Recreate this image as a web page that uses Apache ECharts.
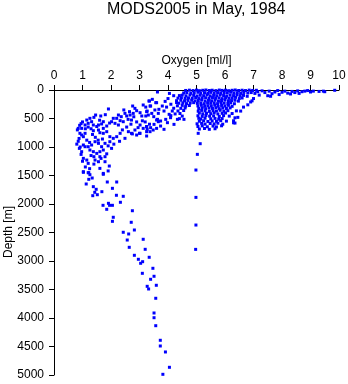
<!DOCTYPE html>
<html><head><meta charset="utf-8">
<script src="https://cdn.jsdelivr.net/npm/echarts@6/dist/echarts.min.js"></script>
<style>html,body{margin:0;padding:0;background:#fff}#c{width:348px;height:384px}</style>
</head><body><div id="c"></div>
<script>
const titleText = 'MODS2005 in May, 1984';
const xName = 'Oxygen [ml/l]';
const yName = 'Depth [m]';
const xTicks = [0,1,2,3,4,5,6,7,8,9,10];
const yTicks = [0,500,1000,1500,2000,2500,3000,3500,4000,4500,5000];

// [oxygen ml/l, depth m]
const surfaceBand = [
[4.62,8],[4.75,3],[4.88,10],[5.0,2],[5.1,12],[5.22,5],[5.33,0],[5.45,9],[5.55,4],[5.68,11],[5.8,1],[5.9,7],[6.02,3],[6.13,12],[6.25,5],[6.36,0],[6.48,9],[6.6,4],[6.72,10],[6.85,2],[6.97,8],[7.1,5],
[4.55,52],[4.66,45],[4.8,58],[4.92,48],[5.05,40],[5.15,55],[5.28,47],[5.4,60],[5.5,42],[5.62,53],[5.74,46],[5.85,57],[5.97,44],[6.08,50],[6.2,38],[6.31,55],[6.43,48],[6.55,60],[6.66,43],[6.8,52],[6.92,45],
[4.4,98],[4.5,90],[4.63,102],[4.77,88],[4.9,95],[5.02,105],[5.13,92],[5.25,99],[5.37,86],[5.48,103],[5.6,94],[5.71,100],[5.83,89],[5.95,97],[6.06,106],[6.18,91],[6.3,99],[6.42,87],[6.53,102],[6.65,95],[6.78,110],
[4.35,142],[4.47,135],[4.6,148],[4.72,138],[4.85,145],[4.97,132],[5.08,150],[5.2,140],[5.32,136],[5.44,147],[5.56,133],[5.67,144],[5.79,139],[5.9,151],[6.02,134],[6.14,146],[6.25,141],[6.37,130],[6.5,150],[6.6,140],
[4.3,188],[4.45,180],[4.58,192],[4.7,183],[4.83,178],[4.95,190],[5.06,185],[5.18,176],[5.3,193],[5.42,182],[5.53,189],[5.65,179],[5.77,194],[5.88,184],[6.0,177],[6.12,191],[6.23,186],[6.35,180],[6.47,195],
[4.38,232],[4.52,225],[4.65,238],[4.78,228],[4.9,222],[5.03,235],[5.15,229],[5.27,240],[5.39,224],[5.5,233],[5.62,227],[5.74,239],[5.86,221],[5.97,231],[6.1,236],[6.2,226],[6.33,241],
[4.33,278],[4.5,270],[4.62,283],[4.75,272],[5.05,280],[5.17,268],[5.29,285],[5.4,274],[5.52,279],[5.64,266],[5.76,284],[5.88,271],[6.0,281],[6.12,269],[6.25,287],
[4.45,322],[4.6,315],[5.08,325],[5.2,312],[5.32,328],[5.44,318],[5.56,323],[5.68,310],[5.8,327],[5.92,316],[6.05,324],[6.18,314],
[4.35,368],[4.55,360],[5.06,372],[5.18,358],[5.3,366],[5.45,375],[5.58,361],[5.7,369],[5.83,356],[5.96,371],[6.1,363],[6.4,366],
[4.42,412],[5.1,405],[5.22,418],[5.35,408],[5.5,415],[5.62,402],[5.75,420],[5.9,410],[6.02,404],[6.25,413],
[4.5,458],[5.05,452],[5.2,463],[5.33,448],[5.46,460],[5.6,455],[5.8,465],[5.95,450],[6.15,458],
[4.4,503],[5.08,497],[5.15,510],[5.3,495],[5.5,505],[5.65,498],[5.78,512],[5.9,501],[6.35,488],
[5.1,548],[5.25,540],[5.4,552],[5.55,543],[5.7,550],[5.85,538],[6.05,546],
[5.02,593],[5.18,585],[5.3,598],[5.48,588],[5.62,595],[5.75,583],[5.92,600],[6.3,575],
[5.05,640],[5.2,630],[5.38,645],[5.58,633],[5.7,648],[5.88,628],
[5.1,685],[5.28,675],[5.45,690],[5.65,680]
];

const highOxygenTail = [
[7.05,60],[7.15,30],[7.2,90],[7.3,15],[7.4,45],[7.5,100],[7.55,20],[7.65,65],[7.75,35],[7.85,10],[7.9,80],[8.0,40],[8.1,20],[8.2,55],[8.3,70],[8.35,25],[8.45,45],[8.55,15],[8.6,60],[8.7,30],[8.8,20],[8.9,10],[9.0,35],[9.1,20],[9.3,25],[9.45,20],[9.5,30],[9.85,5],
[7.6,110],[7.0,150],[6.9,210],[6.95,190],[6.8,260],[6.65,300],[6.55,370],[6.45,480],[6.35,580],[6.3,540]
];

const transitionZone = [
[3.63,35],[3.33,193],[3.45,164],[3.57,222],[3.39,281],[3.27,369],[3.22,456],[3.68,339],[3.8,281],[3.86,369],[3.63,515],[3.51,603],[3.39,661],[3.27,690],[3.25,807],[3.74,544],[3.92,515],[4.04,427],[3.98,573],[4.09,486],[4.21,603],[3.86,690],[3.74,632],[4.15,369],[4.33,515],[4.56,515],[3.2,560],[3.35,600],[3.25,640],[4.0,150],[4.1,250],[4.2,320],[4.25,420],[3.9,200],[4.05,60],[4.2,100],[3.95,300],[4.3,220],[4.1,450]
];

const intermediateLayer = [
[3.35,193],[3.60,222],[3.13,263],[3.22,300],[3.37,281],[2.76,281],[1.91,333],[2.84,322],[2.9,363],[3.02,398],[2.78,410],[2.67,439],[2.55,456],[2.49,410],[2.36,468],[2.26,439],[2.2,497],[2.08,497],[2.02,556],[2.14,585],[2.32,538],[2.43,556],[2.6,515],[2.72,527],[2.26,614],[1.85,632],[1.73,673],[1.46,439],[1.64,456],[1.8,433],[3.25,380],[3.43,410],[3.54,351],[3.66,410],[3.5,468],[3.6,527],[3.31,439],[3.08,456],[1.15,527],[1.26,497],[1.32,556],[1.2,585],[1.09,614],[0.97,673],[0.85,673],[1.38,614],[1.56,614],[1.67,596],[1.73,556],[0.91,760],[0.97,790],[1.03,819],[1.09,760],[1.38,714],[1.56,702],[1.61,749],[1.73,760],[1.85,731],[1.96,819],[2.08,848],[2.2,819],[2.32,760],[2.49,848],[2.61,731],[2.72,760],[2.84,702],[3.02,614],[3.13,673],[3.25,644],[3.37,731],[3.48,702],[3.6,673],[3.66,556],[3.02,760],[3.25,731],[1.03,965],[1.09,995],[1.2,995],[1.32,965],[1.44,907],[1.56,936],[1.67,995],[1.79,936],[1.96,907],[2.02,1024],[0.89,1024],[0.97,1082],[1.26,1053],[1.38,1082],[1.5,1112],[1.61,1082],[1.73,1053],[1.03,1199],[1.15,1229],[1.2,1287],[1.44,1229],[1.56,1258],[1.61,1170],[1.79,1170],[1.79,1258],[1.03,1433],[1.2,1451],[1.61,1375],[1.73,1463],[1.94,1334],
[0.82,700],[0.88,850],[0.85,900],[0.8,950],[0.92,1000],[0.95,1130],[1.0,1250],[0.9,620],[1.1,680],[1.15,880],[1.25,920],[1.3,1150],[1.4,1300],[1.1,1350],[1.25,1380],[1.0,560],[0.95,590],[1.2,650],[1.35,780],[1.45,830],[1.55,880],[1.7,860],[1.9,980],[2.1,950],[2.3,900],[2.4,700],[2.55,650],[2.7,600],[2.9,560],[2.95,660],[3.1,540],[2.8,470],[2.65,380],[2.45,350],[1.95,580],[1.6,530],[1.4,480],[1.5,640],[1.3,680],[1.85,1120],[1.65,1200],[1.4,1170],[1.9,1420],[2.75,770],[2.9,790],[3.0,760]
];

const midDepth = [
[1.03,1444],[1.22,1451],[1.26,1486],[1.73,1479],[1.34,1544],[1.22,1567],[1.87,1614],[2.20,1614],[1.13,1649],[1.38,1696],[2.05,1725],[1.48,1742],[1.68,1784],[1.43,1795],[1.52,1837],[1.36,1854],[2.19,1847],[2.43,1865],[2.33,1970],[1.91,1988],[1.72,2023],[1.95,2023],[2.05,2023],[1.85,2093],[2.75,2118],[2.08,2233],[2.05,2304],[2.71,2321]
];

const deepWater = [
[2.43,2496],[2.62,2526],[2.82,2456],[2.57,2632],[3.13,2619],[2.64,2760],[3.20,2795],[2.82,2900],[3.34,2935],[2.96,2970],[3.11,3012],[3.04,3040],[3.47,3128],[3.10,3216],[3.51,3268],[3.39,3321],[3.59,3426],[3.27,3444],[3.32,3491],[3.57,3654],[3.51,3912],[3.51,3995],[3.57,4135],[3.73,4391],[3.73,4491],[3.91,4596],[4.05,4865],[3.82,4988]
];

const stationColumn = [
[5.06,760],[5.13,942],[5.03,1129],[4.98,1404],[4.98,1884],[4.98,2369],[4.97,2796]
];

const allPoints = [].concat(surfaceBand, highOxygenTail, transitionZone, intermediateLayer, midDepth, deepWater, stationColumn);

const chart = echarts.init(document.getElementById('c'), null, {renderer:'canvas'});
const font = 'Liberation Sans, Arial, Helvetica, sans-serif';
chart.setOption({
  animation: false,
  backgroundColor: '#fff',
  title: {
    text: titleText, left: 107, top: 2, padding: 0,
    textStyle: {fontFamily: font, fontSize: 16, fontWeight: 'normal', color: '#000'}
  },
  graphic: [{
    type: 'text', x: 9, y: 232, rotation: Math.PI / 2,
    style: {text: yName, fontFamily: font, fontSize: 12, fill: '#000', align: 'center', verticalAlign: 'middle'}
  }],
  grid: {left: 54, top: 90, width: 285, height: 285, containLabel: false, outerBoundsMode: 'none'},
  xAxis: {
    type: 'value', position: 'top', min: xTicks[0], max: xTicks[xTicks.length-1], interval: 1,
    name: xName, nameLocation: 'middle', nameGap: 23, nameMoveOverlap: false,
    nameTextStyle: {fontFamily: font, fontSize: 12, color: '#000'},
    axisLine: {show: true, lineStyle: {color: '#000', width: 1}},
    axisTick: {show: true, inside: false, length: 5, lineStyle: {color: '#000'}},
    axisLabel: {fontFamily: font, fontSize: 12, color: '#000', margin: 8, formatter: v => String(v)},
    splitLine: {show: false}
  },
  yAxis: {
    type: 'value', inverse: true, min: yTicks[0], max: yTicks[yTicks.length-1], interval: 500,
    axisLine: {show: true, lineStyle: {color: '#000', width: 1}},
    axisTick: {show: true, inside: false, length: 5, lineStyle: {color: '#000'}},
    axisLabel: {fontFamily: font, fontSize: 12, color: '#000', margin: 10, formatter: v => String(v)},
    splitLine: {show: false}
  },
  series: [{
    type: 'scatter', symbol: 'rect', symbolSize: 3,
    itemStyle: {color: '#0000ff', opacity: 1},
    data: allPoints
  }]
});
</script>
</body></html>
